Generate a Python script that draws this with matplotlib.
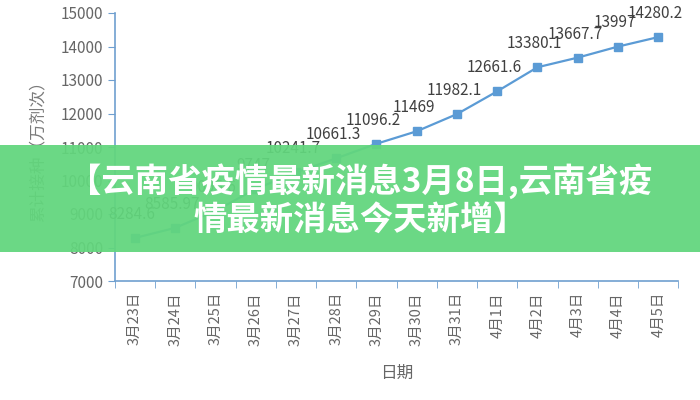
import numpy as np
import matplotlib
matplotlib.use("Agg")
from matplotlib import pyplot as plt
from matplotlib.patches import Rectangle

plt.rcParams['font.family'] = ['Noto Sans CJK SC', 'DejaVu Sans']

# data
dates = ['3月23日', '3月24日', '3月25日', '3月26日', '3月27日', '3月28日', '3月29日',
         '3月30日', '3月31日', '4月1日', '4月2日', '4月3日', '4月4日', '4月5日']
doses = [8284.6, 8585.97, 9095.6, 9747, 10241.7, 10661.3, 11096.2,
         11469, 11982.1, 12661.6, 13380.1, 13667.7, 13997, 14280.2]
labels = ['8284.6', '8585.97', '9095.6', '9747', '10241.7', '10661.3', '11096.2',
          '11469', '11982.1', '12661.6', '13380.1', '13667.7', '13997', '14280.2']
yticks = [7000, 8000, 9000, 10000, 11000, 12000, 13000, 14000, 15000]
banner = '【云南省疫情最新消息3月8日,云南省疫\n情最新消息今天新增】'

lineColor = '#5b9bd5'
axisColor = '#6f9fcf'
textColor = '#666666'

fig = plt.figure(figsize=(7, 4), dpi=100)
fig.set_facecolor('white')
ax = fig.add_axes([0.164, 0.2975, 0.805, 0.67])

x = np.arange(len(dates))
ax.plot(x, doses, color=lineColor, linewidth=1.6, marker='s', markersize=6,
        markeredgecolor=lineColor, markerfacecolor=lineColor, zorder=3)

for xi, yi, lab in zip(x, doses, labels):
    ax.annotate(lab, (xi, yi), xytext=(-2, 17), textcoords='offset points',
                ha='center', va='center', fontsize=11, color='#404040')

ax.set_ylim(7000, 15000)
ax.set_yticks(yticks)
ax.set_xlim(-0.5, len(dates) - 0.5)
ax.set_xticks(x)
ax.set_xticklabels(dates, rotation=90, fontsize=10.5, color=textColor)
ax.set_xticks(np.arange(-0.5, len(dates)), minor=True)
ax.tick_params(axis='x', which='major', length=0, pad=8)
ax.tick_params(axis='x', which='minor', length=5, color=axisColor)
ax.tick_params(axis='y', length=5, color=axisColor, labelsize=11, labelcolor=textColor)

for side in ['top', 'right']:
    ax.spines[side].set_visible(False)
for side in ['left', 'bottom']:
    ax.spines[side].set_color(axisColor)
    ax.spines[side].set_linewidth(1.2)

ax.set_xlabel('日期', fontsize=12, color=textColor, labelpad=14)
ax.set_ylabel('累计接种（万剂次）', fontsize=12, color='#7a7a7a', labelpad=10)

# green title banner over the chart
fig.patches.append(Rectangle((0, 0.37), 1, 0.2675, transform=fig.transFigure,
                             facecolor='#62d67d', alpha=0.94, edgecolor='none', zorder=5))
fig.text(0.515, 0.5, banner, ha='center', va='center', fontsize=24, fontweight='bold',
         color='white', linespacing=1.2, multialignment='center', zorder=6)

fig.savefig('out.png', dpi=100)
